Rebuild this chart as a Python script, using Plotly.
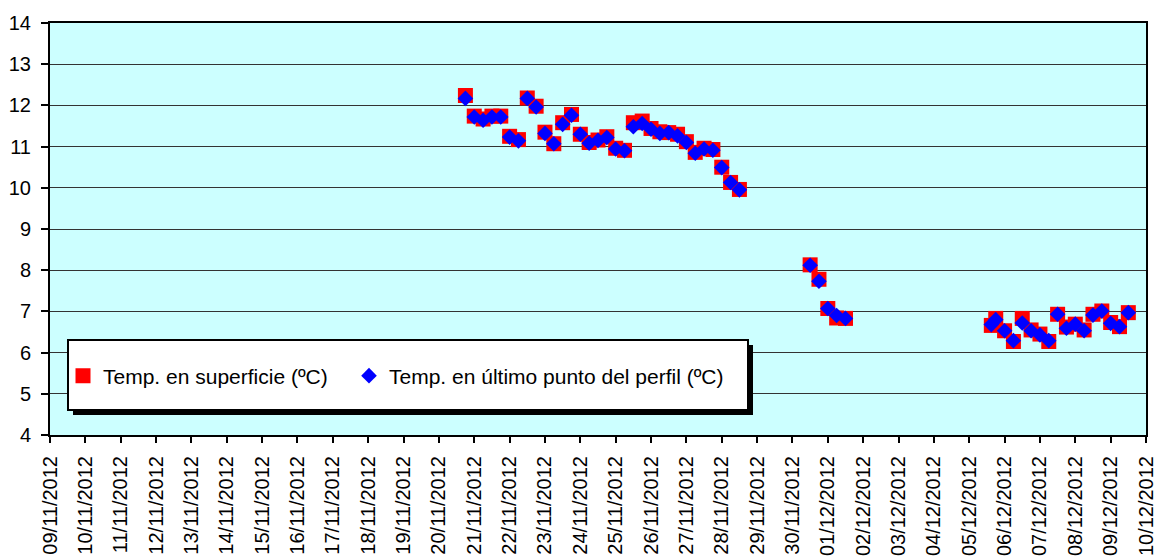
import plotly.graph_objects as go

# ---- data ----
times = [
    "2012-11-20 18:00", "2012-11-21 00:00", "2012-11-21 06:00", "2012-11-21 12:00",
    "2012-11-21 18:00", "2012-11-22 00:00", "2012-11-22 06:00", "2012-11-22 12:00",
    "2012-11-22 18:00", "2012-11-23 00:00", "2012-11-23 06:00", "2012-11-23 12:00",
    "2012-11-23 18:00", "2012-11-24 00:00", "2012-11-24 06:00", "2012-11-24 12:00",
    "2012-11-24 18:00", "2012-11-25 00:00", "2012-11-25 06:00", "2012-11-25 12:00",
    "2012-11-25 18:00", "2012-11-26 00:00", "2012-11-26 06:00", "2012-11-26 12:00",
    "2012-11-26 18:00", "2012-11-27 00:00", "2012-11-27 06:00", "2012-11-27 12:00",
    "2012-11-27 18:00", "2012-11-28 00:00", "2012-11-28 06:00", "2012-11-28 12:00",
    "2012-11-30 12:00", "2012-11-30 18:00", "2012-12-01 00:00", "2012-12-01 06:00",
    "2012-12-01 12:00",
    "2012-12-05 15:00", "2012-12-05 18:00", "2012-12-06 00:00", "2012-12-06 06:00",
    "2012-12-06 12:00", "2012-12-06 18:00", "2012-12-07 00:00", "2012-12-07 06:00",
    "2012-12-07 12:00", "2012-12-07 18:00", "2012-12-08 00:00", "2012-12-08 06:00",
    "2012-12-08 12:00", "2012-12-08 18:00", "2012-12-09 00:00", "2012-12-09 06:00",
    "2012-12-09 12:00",
]

temp_superficie = [
    12.24, 11.74, 11.67, 11.74, 11.74, 11.25, 11.17, 12.18, 11.98, 11.35, 11.07, 11.58,
    11.78, 11.30, 11.10, 11.16, 11.24, 10.96, 10.91, 11.58, 11.62, 11.44, 11.36, 11.34,
    11.30, 11.12, 10.86, 10.96, 10.93, 10.50, 10.13, 9.96,
    8.13, 7.78, 7.07, 6.84, 6.83,
    6.66, 6.83, 6.53, 6.27, 6.83, 6.55, 6.45, 6.27, 6.93, 6.62, 6.69, 6.55, 6.93, 7.01,
    6.73, 6.63, 6.97,
]

temp_fondo = [
    12.17, 11.72, 11.64, 11.72, 11.72, 11.23, 11.14, 12.17, 11.96, 11.32, 11.07, 11.54,
    11.76, 11.30, 11.08, 11.15, 11.22, 10.94, 10.90, 11.48, 11.56, 11.42, 11.32, 11.34,
    11.26, 11.10, 10.84, 10.94, 10.91, 10.49, 10.13, 9.95,
    8.12, 7.73, 7.07, 6.90, 6.83,
    6.68, 6.80, 6.53, 6.29, 6.72, 6.53, 6.43, 6.29, 6.93, 6.59, 6.69, 6.53, 6.91, 7.01,
    6.71, 6.63, 6.97,
]

series_names = ["Temp. en superficie (ºC)", "Temp. en último punto del perfil (ºC)"]
x_range = ["2012-11-09", "2012-12-10"]
y_range = [4, 14]

FONT = "Arial, Liberation Sans, sans-serif"

fig = go.Figure()
fig.add_trace(go.Scatter(
    x=times, y=temp_superficie, mode="markers", name=series_names[0],
    marker=dict(symbol="square", size=15, color="#FF0000", line=dict(width=0)),
    legend="legend",
))
fig.add_trace(go.Scatter(
    x=times, y=temp_fondo, mode="markers", name=series_names[1],
    marker=dict(symbol="diamond", size=12, color="#0000FF", line=dict(width=0)),
    legend="legend2",
))

# plot area in pixels
L, R, T, B = 50, 1146, 23, 435
W, H = 1155, 557
pw, ph = R - L, B - T

def px(xp):
    return (xp - L) / pw

def py(yp):
    return (B - yp) / ph

shapes = [
    # legend shadow
    dict(type="rect", xref="paper", yref="paper", layer="above",
         x0=px(73), x1=px(753), y0=py(415), y1=py(345),
         fillcolor="black", line=dict(width=0)),
    # legend box
    dict(type="rect", xref="paper", yref="paper", layer="above",
         x0=px(68), x1=px(748), y0=py(410), y1=py(340),
         fillcolor="white", line=dict(color="black", width=2)),
]

legend_common = dict(
    orientation="h", xanchor="left", y=py(376), yanchor="middle",
    bgcolor="rgba(0,0,0,0)", borderwidth=0,
    font=dict(family=FONT, size=21, color="black"),
    itemclick=False, itemdoubleclick=False,
)

fig.update_layout(
    width=W, height=H,
    margin=dict(l=L, r=W - R, t=T, b=H - B, autoexpand=False),
    paper_bgcolor="white",
    plot_bgcolor="#CCFFFF",
    font=dict(family=FONT, size=20, color="black"),
    showlegend=True,
    legend=dict(x=px(63), **legend_common),
    legend2=dict(x=px(349), **legend_common),
    shapes=shapes,
)

fig.update_xaxes(
    type="date", range=x_range, automargin=False,
    tickformat="%d/%m/%Y", dtick=86400000, tick0="2012-11-09",
    tickangle=-90, ticks="outside", ticklen=6, tickwidth=2, tickcolor="black",
    showline=True, linecolor="black", linewidth=2, mirror=True,
    showgrid=False, zeroline=False,
    tickfont=dict(family=FONT, size=20, color="black"),
    ticklabelstandoff=5, ticklabeloverflow="allow",
)
fig.update_yaxes(
    range=y_range, dtick=1, tick0=4, automargin=False,
    ticks="outside", ticklen=7, tickwidth=2, tickcolor="black",
    showline=True, linecolor="black", linewidth=2, mirror=True,
    showgrid=True, gridcolor="#333333", gridwidth=1, zeroline=False,
    tickfont=dict(family=FONT, size=20, color="black"),
    ticklabelstandoff=6,
)

fig.write_html(
    "out.html",
    config={"displayModeBar": False},
    post_script="document.body.style.margin='0';document.body.style.overflow='hidden';",
)
